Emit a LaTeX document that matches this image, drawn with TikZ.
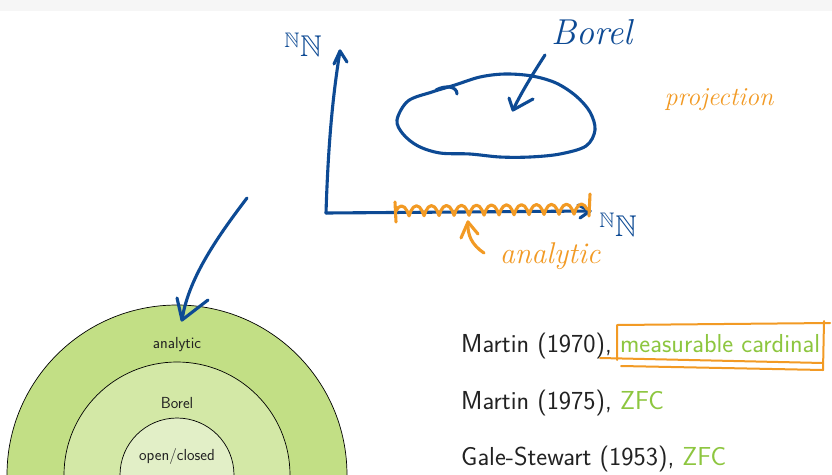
\documentclass[tikz,border=0pt]{standalone}
\usepackage{amssymb}
\usetikzlibrary{decorations.pathmorphing}
\definecolor{inkblue}{HTML}{0D4A94}
\definecolor{inkorange}{HTML}{F29A24}
\definecolor{ringA}{HTML}{C2DF85}
\definecolor{ringB}{HTML}{D3E8A6}
\definecolor{ringC}{HTML}{E2EFC7}
\definecolor{zfcgreen}{HTML}{8DC63F}
\definecolor{topgray}{HTML}{F6F6F6}
\definecolor{textdark}{HTML}{222222}
\begin{document}
\begin{tikzpicture}[x=1pt,y=-1pt,
  blueink/.style={draw=inkblue,line width=3.1pt,line cap=round,line join=round},
  orangeink/.style={draw=inkorange,line width=3.1pt,line cap=round,line join=round},
  ringline/.style={draw=black,line width=0.7pt},
  circtext/.style={font=\sffamily\fontsize{16}{19}\selectfont,text=textdark,anchor=base,inner sep=0pt},
  bigtext/.style={font=\sffamily\fontsize{26}{30}\selectfont,text=textdark,anchor=base west,inner sep=0pt},
  handblue/.style={font=\itshape\fontsize{36}{40}\selectfont,text=inkblue,inner sep=0pt},
  handorange/.style={font=\itshape\fontsize{30}{34}\selectfont,text=inkorange,inner sep=0pt},
  nnlabel/.style={font=\fontsize{30}{30}\selectfont,text=inkblue,inner sep=0pt}]
\useasboundingbox (0,0) rectangle (832,474);
\fill[white] (0,0) rectangle (832,474);
\fill[topgray] (0,0) rectangle (832,11);

% nested regions
\begin{scope}
  \clip (0,0) rectangle (832,474);
  \filldraw[fill=ringA,ringline] (177,475) circle (170);
  \filldraw[fill=ringB,ringline] (177,475) circle (113);
  \filldraw[fill=ringC,ringline] (177,475) circle (57);
\end{scope}
\node[circtext] (lanalytic) at (177,348) {analytic};
\node[circtext] (lborel) at (177,408) {Borel};
\node[circtext] (lopen) at (177,460) {open/closed};

% theorems
\node[bigtext] (t1) at (461,352) {Martin (1970), \textcolor{zfcgreen}{measurable cardinal}};
\node[bigtext] (t2) at (461,409) {Martin (1975), \textcolor{zfcgreen}{ZFC}};
\node[bigtext] (t3) at (461,465) {Gale-Stewart (1953), \textcolor{zfcgreen}{ZFC}};

% axes
\coordinate (origin) at (326,213);
\coordinate (ytip) at (340,51);
\coordinate (xtip) at (590,211);
\draw[blueink] (origin) .. controls (328,150) and (332,100) .. (ytip);
\draw[blueink] (334,64) -- (ytip) -- (347,62);
\draw[blueink] (origin) -- (xtip);
\draw[blueink] (578,205) -- (xtip) -- (580,218);
\node[nnlabel] (nny) at (303,45) {${}^{\mathbb{N}}\mathbb{N}$};
\node[nnlabel] (nnx) at (618,225) {${}^{\mathbb{N}}\mathbb{N}$};

% Borel blob
\draw[blueink] plot[smooth cycle, tension=0.55] coordinates
  {(397,120) (408,101) (432,92) (455,85) (480,77) (505,74) (532,76) (556,83) (576,96) (590,112) (595,130) (586,146) (560,154) (530,157) (500,157) (470,154) (440,153) (418,146) (403,134)};
\draw[blueink] (436,90) .. controls (445,85) and (457,86) .. (457,94);
\node[handblue] (hborel) at (592,32) {Borel};
\coordinate (btip) at (513,110);
\draw[blueink] (545,55) .. controls (532,75) and (520,95) .. (btip);
\draw[blueink] (509,98) -- (btip) -- (533,99);

% projection
\node[handorange,font=\itshape\fontsize{26}{30}\selectfont] (hproj) at (719,100) {projection};

% analytic squiggle
\draw[orangeink,decorate,decoration={coil,aspect=0.35,amplitude=5pt,segment length=15pt}] (396,211) -- (588,209);
\draw[orangeink] (395,202) -- (396,222);
\draw[orangeink] (590,194) -- (589,216);
\coordinate (atip) at (468,222);
\draw[orangeink] (484,253) .. controls (472,245) and (467,235) .. (atip);
\draw[orangeink] (461,238) -- (atip) -- (478,234);
\node[handorange] (hanalytic) at (550,256) {analytic};

% arrow to the diagram
\coordinate (ctip) at (182,320);
\draw[blueink] (247,198) .. controls (215,240) and (188,280) .. (ctip);
\draw[blueink] (177,298) -- (ctip) -- (208,300);

% box around measurable cardinal
\draw[orangeink,line width=2pt] (617,360) -- (617,325) -- (830,323);
\draw[orangeink,line width=2pt] (824,321) -- (823,370);
\draw[orangeink,line width=2pt] (600,358) -- (823,363);
\draw[orangeink,line width=2pt] (621,366) -- (823,370);
\end{tikzpicture}
\end{document}
